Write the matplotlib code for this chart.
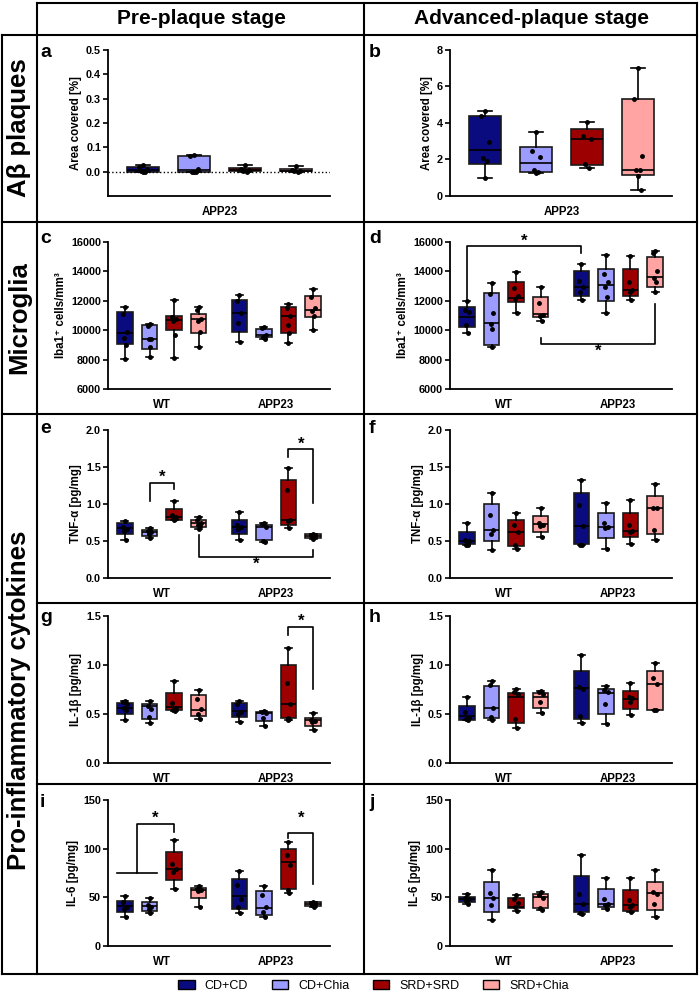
import matplotlib
matplotlib.use('Agg')
import matplotlib.pyplot as plt
from matplotlib.lines import Line2D
from matplotlib.patches import Patch
import numpy as np

plt.rcParams['font.family'] = ['Liberation Sans', 'DejaVu Sans']

diets = ['CD+CD', 'CD+Chia', 'SRD+SRD', 'SRD+Chia']
colors = ['#0b0b80', '#9c9cff', '#9c0000', '#ffa3a3']
genotypes = ['WT', 'APP23']

# box stats per group: min, q1, median, q3, max  (WT x4 then APP23 x4)
a_box = [[0.0, 0.0, 0.005, 0.02, 0.028], [0.0, 0.0, 0.006, 0.064, 0.068],
         [0.0, 0.002, 0.008, 0.014, 0.026], [0.0, 0.001, 0.004, 0.01, 0.022]]
a_pts = [[0.028, 0.02, 0.01, 0.004, 0.0, 0.0], [0.068, 0.065, 0.01, 0.0, 0.0, 0.0],
         [0.026, 0.013, 0.008, 0.004, 0.0], [0.022, 0.008, 0.004, 0.002, 0.0]]

b_box = [[1.0, 1.77, 2.51, 4.40, 4.64], [1.25, 1.34, 1.79, 2.69, 3.48],
         [1.52, 1.68, 3.12, 3.66, 4.08], [0.32, 1.13, 1.43, 5.31, 7.0]]
b_pts = [[4.64, 4.4, 2.94, 2.09, 1.91, 1.0], [3.48, 2.45, 2.15, 1.4, 1.3, 1.25],
         [4.08, 3.27, 3.15, 1.78, 1.52], [7.0, 5.3, 2.2, 1.45, 1.4, 1.1, 0.32]]

c_box = [[8040, 9060, 9830, 11220, 11560], [8200, 8700, 9380, 10350, 10420],
         [8090, 10000, 10700, 10990, 12050], [8840, 9800, 10750, 11100, 11600],
         [9220, 9900, 11150, 12050, 12370], [9430, 9540, 9650, 10100, 10250],
         [9160, 9830, 10990, 11600, 11810], [10040, 10900, 11400, 12330, 12790]]
c_pts = [[11560, 11100, 9850, 9470, 9000, 8040], [10420, 10300, 9380, 9380, 8880, 8200],
         [12050, 10900, 10750, 10650, 9670, 8090], [11600, 11350, 10780, 10600, 9860, 8840],
         [12370, 12000, 11150, 10500, 9220], [10250, 10150, 9650, 9550, 9430],
         [11810, 11500, 11000, 10380, 9830, 9160], [12790, 12280, 11500, 11300, 11000, 10040]]

d_box = [[9820, 10230, 10900, 11550, 11980], [8860, 8980, 10500, 12500, 13230],
         [11200, 11930, 12160, 13300, 13980], [10640, 10910, 11100, 12270, 12910],
         [12050, 12320, 12910, 14050, 14500], [11140, 12000, 13100, 14140, 15090],
         [12050, 12320, 12730, 14140, 15050], [12610, 12910, 13590, 15000, 15390]]
d_pts = [[11980, 11360, 11250, 10340, 9820], [13230, 12450, 11180, 10450, 10110, 8860],
         [13980, 12890, 12300, 12090, 11200], [12910, 11860, 11050, 10950, 10640],
         [14500, 13360, 12910, 12600, 12050], [15090, 13820, 13300, 12910, 12230, 11140],
         [15050, 13250, 12730, 12570, 12050], [15390, 15230, 14020, 13520, 13300, 12610]]

e_box = [[0.51, 0.59, 0.67, 0.74, 0.77], [0.54, 0.57, 0.615, 0.655, 0.68],
         [0.78, 0.79, 0.83, 0.93, 1.045], [0.656, 0.69, 0.74, 0.79, 0.82],
         [0.51, 0.60, 0.69, 0.79, 0.89], [0.49, 0.51, 0.69, 0.72, 0.745],
         [0.67, 0.715, 0.79, 1.32, 1.48], [0.53, 0.545, 0.565, 0.59, 0.60]]
e_pts = [[0.77, 0.69, 0.66, 0.64, 0.51], [0.68, 0.63, 0.615, 0.6, 0.54],
         [1.045, 0.85, 0.83, 0.82, 0.80, 0.78], [0.82, 0.78, 0.75, 0.72, 0.70, 0.656],
         [0.89, 0.72, 0.69, 0.66, 0.51], [0.745, 0.73, 0.69, 0.5, 0.49],
         [1.48, 1.19, 0.79, 0.77, 0.67], [0.60, 0.58, 0.57, 0.56, 0.55, 0.53]]

f_box = [[0.443, 0.466, 0.50, 0.62, 0.738], [0.376, 0.498, 0.647, 0.995, 1.145],
         [0.398, 0.439, 0.615, 0.783, 0.873], [0.556, 0.624, 0.724, 0.842, 0.94],
         [0.443, 0.466, 0.70, 1.145, 1.32], [0.389, 0.543, 0.69, 0.873, 1.018],
         [0.466, 0.548, 0.633, 0.873, 1.054], [0.52, 0.593, 0.94, 1.113, 1.27]]
f_pts = [[0.738, 0.52, 0.50, 0.45, 0.443], [1.145, 0.85, 0.65, 0.6, 0.376],
         [0.873, 0.72, 0.62, 0.45, 0.398], [0.94, 0.75, 0.71, 0.70, 0.556],
         [1.32, 0.98, 0.70, 0.45, 0.443], [1.018, 0.75, 0.69, 0.67, 0.389],
         [1.054, 0.72, 0.63, 0.62, 0.466], [1.27, 0.95, 0.94, 0.65, 0.52]]

g_box = [[0.442, 0.497, 0.565, 0.616, 0.633], [0.412, 0.446, 0.582, 0.605, 0.636],
         [0.527, 0.537, 0.571, 0.718, 0.837], [0.452, 0.476, 0.537, 0.69, 0.748],
         [0.418, 0.469, 0.527, 0.612, 0.636], [0.378, 0.429, 0.51, 0.525, 0.53],
         [0.442, 0.463, 0.605, 0.997, 1.17], [0.34, 0.378, 0.435, 0.463, 0.514]]
g_pts = [[0.633, 0.62, 0.6, 0.56, 0.54, 0.442], [0.636, 0.58, 0.55, 0.47, 0.412],
         [0.837, 0.61, 0.56, 0.54, 0.527], [0.748, 0.65, 0.55, 0.5, 0.452],
         [0.636, 0.6, 0.52, 0.50, 0.418], [0.53, 0.52, 0.51, 0.46, 0.378],
         [1.17, 0.82, 0.6, 0.46, 0.45, 0.442], [0.514, 0.44, 0.43, 0.42, 0.34]]

h_box = [[0.435, 0.442, 0.48, 0.582, 0.673], [0.435, 0.463, 0.565, 0.786, 0.833],
         [0.357, 0.412, 0.673, 0.718, 0.752], [0.51, 0.565, 0.673, 0.714, 0.731],
         [0.412, 0.452, 0.765, 0.935, 1.099], [0.395, 0.503, 0.714, 0.752, 0.782],
         [0.486, 0.548, 0.656, 0.735, 0.82], [0.537, 0.544, 0.81, 0.935, 1.02]]
h_pts = [[0.673, 0.52, 0.46, 0.45, 0.435], [0.833, 0.80, 0.56, 0.47, 0.435],
         [0.752, 0.72, 0.70, 0.45, 0.357], [0.731, 0.72, 0.70, 0.62, 0.51],
         [1.099, 0.78, 0.76, 0.48, 0.412], [0.782, 0.74, 0.72, 0.60, 0.395],
         [0.82, 0.67, 0.66, 0.62, 0.486], [1.02, 0.87, 0.81, 0.54, 0.537]]

i_box = [[30.1, 34.6, 41.4, 46.6, 51.7], [34.2, 36.0, 41.4, 44.9, 49.7],
         [58.6, 67.8, 79.1, 96.2, 108.9], [39.7, 49.0, 57.5, 59.9, 61.6],
         [34.2, 37.7, 51.7, 68.8, 77.4], [29.4, 32.0, 38.7, 56.8, 61.6],
         [54.1, 58.2, 86.6, 99.3, 107.2], [39.7, 41.1, 43.2, 44.9, 45.5]]
i_pts = [[51.7, 45, 40, 38, 30.1], [49.7, 42, 40, 38, 34.2],
         [108.9, 84.6, 79, 76, 58.6], [61.6, 59, 58, 57, 39.7],
         [77.4, 63, 48, 40, 34.2], [61.6, 52, 40, 35, 29.4],
         [107.2, 94, 83, 58, 54.1], [45.5, 44, 43, 42.5, 39.7]]

j_box = [[43.2, 45.5, 47.9, 50.0, 53.4], [26.7, 35.2, 49.0, 65.4, 78.1],
         [36.0, 38.7, 40.4, 49.7, 52.4], [37.0, 38.7, 50.0, 53.1, 55.1],
         [32.5, 35.3, 43.2, 72.3, 93.5], [37.7, 40.4, 42.8, 58.6, 70.2],
         [34.6, 36.3, 42.1, 57.5, 69.5], [30.1, 37.0, 54.1, 66.1, 78.1]]
j_pts = [[53.4, 49, 47.9, 46, 43.2], [78.1, 54, 49, 42.5, 26.7],
         [52.4, 47.9, 44, 40, 36.0], [55.1, 52.5, 49, 39, 37.0],
         [93.5, 53, 43, 34, 32.5], [70.2, 48.6, 42.8, 42, 37.7],
         [69.5, 47, 42.1, 40, 34.6], [78.1, 55.5, 53.5, 43, 30.1]]

pos8 = [0, 1, 2, 3, 4.66, 5.66, 6.66, 7.66]
pos4 = [0, 1, 2, 3]

# significance brackets: x1, x2, y, left end, right end, star y
d_sig = [(pos8[0], pos8[4], 15700, 12150, 15250, 16050),
         (pos8[3], pos8[7], 9090, 9500, 11800, 8550)]
e_sig = [(pos8[1], pos8[2], 1.28, 1.04, 1.20, 1.36),
         (pos8[6], pos8[7], 1.74, 1.64, 1.02, 1.81),
         (pos8[3], pos8[7], 0.28, 0.577, 0.378, 0.18)]
g_sig = [(pos8[6], pos8[7], 1.385, 1.306, 0.752, 1.445)]
i_sig = [(0.5, pos8[2], 125.3, 74.6, 117.4, 131),
         (pos8[6], pos8[7], 116.3, 110.9, 63.7, 131)]

W, H = 700, 992
fig = plt.figure(figsize=(7, 9.92), dpi=100)


def add_ax(left, top, bottom):
    return fig.add_axes([left / W, 1 - bottom / H, 222 / W, (bottom - top) / H])


def yticks_fmt(t):
    if all(float(v).is_integer() for v in t):
        return [str(int(v)) for v in t]
    return ['%.1f' % v for v in t]


def draw(ax, box, pts, ylim, yticks, ylabel, sig=()):
    n = len(box)
    pos = pos8 if n == 8 else pos4
    w = 0.64
    stats = [dict(whislo=b[0], q1=b[1], med=b[2], q3=b[3], whishi=b[4]) for b in box]
    bp = ax.bxp(stats, positions=pos, widths=w, capwidths=w * 0.45, patch_artist=True,
                showfliers=False,
                boxprops=dict(linewidth=1.2, edgecolor='#1a1a1a'),
                medianprops=dict(color='black', linewidth=1.2),
                whiskerprops=dict(color='black', linewidth=1.2),
                capprops=dict(color='black', linewidth=1.2))
    for k, patch in enumerate(bp['boxes']):
        patch.set_facecolor(colors[k % 4])
    offs = [0, -0.12, 0.12, -0.06, 0.06, 0.0, 0.1]
    for k, p in enumerate(pts):
        xs = [pos[k] + offs[m % len(offs)] * w for m in range(len(p))]
        ax.plot(xs, p, 'o', color='black', ms=2.5, zorder=5)
    for x1, x2, y, yl, yr, ys in sig:
        ax.plot([x1, x1, x2, x2], [yl, y, y, yr], color='black', lw=1.2, clip_on=False)
        ax.text((x1 + x2) / 2, ys, '*', ha='center', va='center', fontsize=12,
                fontweight='bold', clip_on=False)
    ax.set_ylim(*ylim)
    if n == 8:
        ax.set_xlim(-0.69, 8.35)
        ax.set_xticks([1.5, 6.16], genotypes, fontsize=8.3, fontweight='bold')
    else:
        ax.set_xlim(-0.69, 3.67)
        ax.set_xticks([1.5], ['APP23'], fontsize=8.3, fontweight='bold')
    ax.set_yticks(yticks, yticks_fmt(yticks), fontsize=7.8, fontweight='bold')
    ax.set_ylabel(ylabel, fontsize=8.3, fontweight='bold', labelpad=3)
    for s in ['top', 'right']:
        ax.spines[s].set_visible(False)
    for s in ['left', 'bottom']:
        ax.spines[s].set_linewidth(1.3)
    ax.tick_params(axis='y', direction='out', length=3.5, width=1.2, pad=1.5)
    ax.tick_params(axis='x', length=0, pad=7)
    ax.patch.set_alpha(0)


rows = [(50, 196), (242, 389), (430, 578), (616, 763), (800, 946)]
L, R = 108, 450

ax = add_ax(L, *rows[0])
draw(ax, a_box, a_pts, (-0.1, 0.5), [0, 0.1, 0.2, 0.3, 0.4, 0.5], 'Area covered [%]')
ax.axhline(0, ls=':', color='black', lw=1)
ax = add_ax(R, *rows[0])
draw(ax, b_box, b_pts, (0, 8), [0, 2, 4, 6, 8], 'Area covered [%]')

iba = 'Iba1\u207a cells/mm\u00b3'
ax = add_ax(L, *rows[1])
draw(ax, c_box, c_pts, (6000, 16000), [6000, 8000, 10000, 12000, 14000, 16000], iba)
ax = add_ax(R, *rows[1])
draw(ax, d_box, d_pts, (6000, 16000), [6000, 8000, 10000, 12000, 14000, 16000], iba, d_sig)

ax = add_ax(L, *rows[2])
draw(ax, e_box, e_pts, (0, 2.0), [0, 0.5, 1.0, 1.5, 2.0], 'TNF-\u03b1 [pg/mg]', e_sig)
ax = add_ax(R, *rows[2])
draw(ax, f_box, f_pts, (0, 2.0), [0, 0.5, 1.0, 1.5, 2.0], 'TNF-\u03b1 [pg/mg]')

ax = add_ax(L, *rows[3])
draw(ax, g_box, g_pts, (0, 1.5), [0, 0.5, 1.0, 1.5], 'IL-1\u03b2 [pg/mg]', g_sig)
ax = add_ax(R, *rows[3])
draw(ax, h_box, h_pts, (0, 1.5), [0, 0.5, 1.0, 1.5], 'IL-1\u03b2 [pg/mg]')

ax = add_ax(L, *rows[4])
draw(ax, i_box, i_pts, (0, 150), [0, 50, 100, 150], 'IL-6 [pg/mg]', i_sig)
ax.plot([-0.32, 1.32], [74.6, 74.6], color='black', lw=1.2)
ax = add_ax(R, *rows[4])
draw(ax, j_box, j_pts, (0, 150), [0, 50, 100, 150], 'IL-6 [pg/mg]')

# frame lines of the figure layout
hlines = [(37, 697, 3), (2, 697, 35), (2, 697, 222), (2, 697, 414),
          (37, 697, 603), (37, 697, 784), (2, 697, 974)]
vlines = [(2, 35, 974), (37, 3, 974), (364, 3, 974), (697, 3, 974)]
for x1, x2, y in hlines:
    fig.add_artist(Line2D([x1 / W, x2 / W], [1 - y / H, 1 - y / H], color='black', lw=1.5))
for x, y1, y2 in vlines:
    fig.add_artist(Line2D([x / W, x / W], [1 - y1 / H, 1 - y2 / H], color='black', lw=1.5))

fig.text(201 / W, 1 - 19 / H, 'Pre-plaque stage', ha='center', va='center', fontsize=15, fontweight='bold')
fig.text(531 / W, 1 - 19 / H, 'Advanced-plaque stage', ha='center', va='center', fontsize=15, fontweight='bold')

for label, yc in [('A\u03b2 plaques', 128), ('Microglia', 318), ('Pro-inflammatory cytokines', 700)]:
    fig.text(19 / W, 1 - yc / H, label, rotation=90, ha='center', va='center', fontsize=18.5, fontweight='bold')

letters = 'abcdefghij'
baselines = [57, 243, 433, 622, 807]
for k, ch in enumerate(letters):
    x = 40 if k % 2 == 0 else 369
    fig.text(x / W, 1 - baselines[k // 2] / H, ch, fontsize=14, fontweight='bold', va='baseline')

handles = [Patch(facecolor=c, edgecolor='black', linewidth=1, label=l) for c, l in zip(colors, diets)]
fig.legend(handles=handles, loc='center', bbox_to_anchor=(0.534, 1 - 986 / H), ncol=4, frameon=False,
           fontsize=9, handlelength=1.3, handleheight=0.7, columnspacing=1.9, handletextpad=0.8)

fig.savefig('out.png', dpi=100)
